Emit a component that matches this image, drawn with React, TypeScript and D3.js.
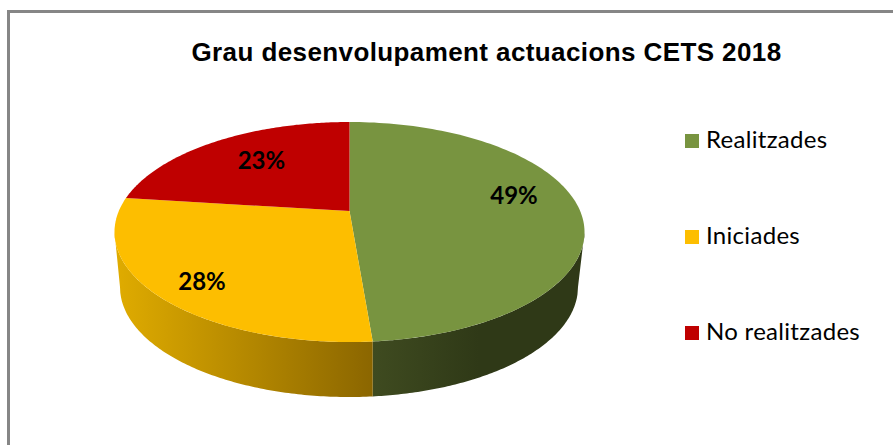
import React from "react";
import * as d3 from "d3";

const title = "Grau desenvolupament actuacions CETS 2018";
const categories = ["Realitzades", "Iniciades", "No realitzades"];
const values = [48.7, 28.3, 23];
const colors = ["#789440", "#FDBE00", "#BF0000"];
const sideStops = [
  ["#3F4B20", "#2F3917"],
  ["#E0AC00", "#8B6600"],
  ["#7A0000", "#7A0000"],
];

const W = 893, H = 445;
const top = { x0: 114.5, x1: 584.5, y0: 122, y1: 342 };
const bottom = { x0: 120, x1: 578, y0: 177, y1: 397 };
const persp = -0.19;
const labelNudge = [[4, -13], [-19, 14], [9, 0]];
const legendYs = d3.scalePoint<string>().domain(categories).range([141, 333]);

const topX = d3.scaleLinear().domain([-1, 1]).range([top.x0, top.x1]);
const topY = d3.scaleLinear().domain([-1, 1]).range([top.y0, top.y1]);
const botX = d3.scaleLinear().domain([-1, 1]).range([bottom.x0, bottom.x1]);
const botY = d3.scaleLinear().domain([-1, 1]).range([bottom.y0, bottom.y1]);

// Perspective projection of a point of the unit disc on the tilted pie
function project(theta: number, r = 1): [number, number] {
  const u = r * Math.sin(theta), v = -r * Math.cos(theta);
  const d = 1 + persp * v;
  return [topX((u * Math.sqrt(1 - persp * persp)) / d), topY((v + persp) / d)];
}

const arcs = d3.pie<number>().sort(null).value((d) => d)(values);
const line = d3.line();

function wedge(a: number, b: number) {
  const pts = d3.range(0, 121).map((i) => project(a + ((b - a) * i) / 120));
  return line([project(0, 0), ...pts]) + "Z";
}

// Outer wall between two screen x positions of the front edge
function wall(xa: number, xb: number) {
  const toPhi = (x: number) => Math.acos(Math.max(-1, Math.min(1, topX.invert(x))));
  const a = toPhi(xa), b = toPhi(xb);
  const ts = d3.range(0, 121).map((i) => a + ((b - a) * i) / 120);
  const upper = ts.map((t) => [topX(Math.cos(t)), topY(Math.sin(t))] as [number, number]);
  const lower = ts.map((t) => {
    const x = Math.max(bottom.x0, Math.min(bottom.x1, topX(Math.cos(t))));
    const c = botX.invert(x);
    return [x, botY(Math.sqrt(Math.max(0, 1 - c * c)))] as [number, number];
  }).reverse();
  return line([...upper, ...lower]) + "Z";
}

const split = project(arcs[0].endAngle)[0];
const fmt = (v: number) => `${Math.round(v)}%`;

export default function App() {
  return (
    <svg width={W} height={H} style={{ position: "absolute", left: 0, top: 0, background: "#fff" }}>
      <defs>
        <linearGradient id="side-0" gradientUnits="userSpaceOnUse" x1={split} x2={topX(0.55)} y1={0} y2={0}>
          <stop offset="0" stopColor={sideStops[0][0]} />
          <stop offset="1" stopColor={sideStops[0][1]} />
        </linearGradient>
        <linearGradient id="side-1" gradientUnits="userSpaceOnUse" x1={top.x0} x2={split} y1={0} y2={0}>
          <stop offset="0" stopColor={sideStops[1][0]} />
          <stop offset="1" stopColor={sideStops[1][1]} />
        </linearGradient>
      </defs>
      <path d={`M8.5 445V11.5H${W}`} fill="none" stroke="#868686" strokeWidth={3} />
      <text x={486.5} y={61} textAnchor="middle" fontFamily="'Liberation Sans'" fontWeight={700} fontSize={26} letterSpacing={0.4} fill="#000">
        {title}
      </text>
      <path d={wall(split, top.x1)} fill="url(#side-0)" />
      <path d={wall(top.x0, split)} fill="url(#side-1)" />
      {arcs.map((a, i) => (
        <path key={i} d={wedge(a.startAngle, a.endAngle)} fill={colors[i]} />
      ))}
      {arcs.map((a, i) => {
        const [x, y] = project((a.startAngle + a.endAngle) / 2, 0.7);
        return (
          <text key={i} x={x + labelNudge[i][0]} y={y + labelNudge[i][1]} dy="0.36em" textAnchor="middle"
            fontFamily="Lato" fontWeight={700} fontSize={24} fill="#000">
            {fmt(values[i])}
          </text>
        );
      })}
      {categories.map((c, i) => (
        <g key={c}>
          <rect x={685} y={legendYs(c)! - 7} width={14} height={14} fill={colors[i]} />
          <text x={706} y={legendYs(c)! + 7} fontFamily="Lato" fontSize={24} letterSpacing={0.3} fill="#000">
            {c}
          </text>
        </g>
      ))}
    </svg>
  );
}
